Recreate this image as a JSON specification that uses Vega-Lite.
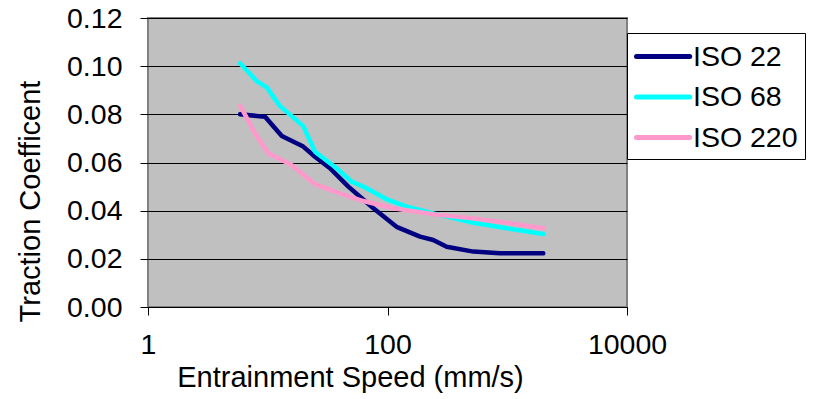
{
  "$schema": "https://vega.github.io/schema/vega-lite/v6.json",
  "width": 479,
  "height": 289,
  "autosize": {"type": "none"},
  "padding": {"left": 148, "top": 18, "right": 188, "bottom": 92},
  "background": "white",
  "config": {
    "font": "Liberation Sans",
    "view": {"fill": "#c0c0c0", "stroke": "#808080", "strokeWidth": 2},
    "axis": {
      "labelFont": "Liberation Sans",
      "titleFont": "Liberation Sans",
      "labelFontSize": 28.5,
      "titleFontSize": 29,
      "titleFontWeight": "normal",
      "labelColor": "black",
      "titleColor": "black",
      "tickColor": "black",
      "tickSize": 8,
      "domainColor": "black"
    },
    "legend": {
      "labelFont": "Liberation Sans",
      "labelFontSize": 28.5,
      "labelColor": "black"
    }
  },
  "data": {
    "values": [
      {"series": "ISO 22", "speed": 5.87, "tc": 0.0800},
      {"series": "ISO 22", "speed": 9.5, "tc": 0.0790},
      {"series": "ISO 22", "speed": 13.1, "tc": 0.0710},
      {"series": "ISO 22", "speed": 19.8, "tc": 0.0666},
      {"series": "ISO 22", "speed": 24.8, "tc": 0.0624},
      {"series": "ISO 22", "speed": 33.1, "tc": 0.0576},
      {"series": "ISO 22", "speed": 47.1, "tc": 0.0500},
      {"series": "ISO 22", "speed": 76.2, "tc": 0.0410},
      {"series": "ISO 22", "speed": 119, "tc": 0.0333},
      {"series": "ISO 22", "speed": 187, "tc": 0.0292},
      {"series": "ISO 22", "speed": 241, "tc": 0.0278},
      {"series": "ISO 22", "speed": 312, "tc": 0.0250},
      {"series": "ISO 22", "speed": 521, "tc": 0.0230},
      {"series": "ISO 22", "speed": 871, "tc": 0.0223},
      {"series": "ISO 22", "speed": 2000, "tc": 0.0223},
      {"series": "ISO 68", "speed": 5.87, "tc": 0.1012},
      {"series": "ISO 68", "speed": 8.09, "tc": 0.0938},
      {"series": "ISO 68", "speed": 9.8, "tc": 0.0912},
      {"series": "ISO 68", "speed": 12.6, "tc": 0.0835},
      {"series": "ISO 68", "speed": 19.8, "tc": 0.0751},
      {"series": "ISO 68", "speed": 24.8, "tc": 0.0645},
      {"series": "ISO 68", "speed": 37.6, "tc": 0.0576},
      {"series": "ISO 68", "speed": 50.2, "tc": 0.0520},
      {"series": "ISO 68", "speed": 62.8, "tc": 0.0500},
      {"series": "ISO 68", "speed": 98.4, "tc": 0.0447},
      {"series": "ISO 68", "speed": 145, "tc": 0.0417},
      {"series": "ISO 68", "speed": 241, "tc": 0.0389},
      {"series": "ISO 68", "speed": 521, "tc": 0.0350},
      {"series": "ISO 68", "speed": 990, "tc": 0.0327},
      {"series": "ISO 68", "speed": 2000, "tc": 0.0303},
      {"series": "ISO 220", "speed": 5.9, "tc": 0.0835},
      {"series": "ISO 220", "speed": 7.83, "tc": 0.0721},
      {"series": "ISO 220", "speed": 10.1, "tc": 0.0638},
      {"series": "ISO 220", "speed": 15.8, "tc": 0.0590},
      {"series": "ISO 220", "speed": 24.8, "tc": 0.0510},
      {"series": "ISO 220", "speed": 40.1, "tc": 0.0472},
      {"series": "ISO 220", "speed": 62.8, "tc": 0.0440},
      {"series": "ISO 220", "speed": 112, "tc": 0.0410},
      {"series": "ISO 220", "speed": 241, "tc": 0.0385},
      {"series": "ISO 220", "speed": 521, "tc": 0.0368},
      {"series": "ISO 220", "speed": 990, "tc": 0.0350},
      {"series": "ISO 220", "speed": 2000, "tc": 0.0327}
    ]
  },
  "mark": {"type": "line", "strokeWidth": 4.5, "strokeCap": "round", "strokeJoin": "round"},
  "encoding": {
    "x": {
      "field": "speed",
      "type": "quantitative",
      "scale": {"type": "log", "domain": [1, 10000], "nice": false},
      "axis": {
        "title": "Entrainment Speed (mm/s)",
        "values": [1, 100, 10000],
        "format": "d",
        "grid": false,
        "labelPadding": 15,
        "labelFlush": false,
        "titleX": 202,
        "titleY": 79,
        "titleBaseline": "alphabetic"
      }
    },
    "y": {
      "field": "tc",
      "type": "quantitative",
      "scale": {"domain": [0, 0.12], "nice": false, "zero": true},
      "axis": {
        "title": "Traction Coefficent",
        "values": [0, 0.02, 0.04, 0.06, 0.08, 0.1, 0.12],
        "format": ".2f",
        "grid": true,
        "gridColor": "black",
        "gridWidth": 1,
        "gridOpacity": 1,
        "domain": false,
        "labelPadding": 18,
        "titleX": -118,
        "titleY": 183,
        "titleAngle": -90,
        "titleBaseline": "middle",
        "titleAlign": "center"
      }
    },
    "color": {
      "field": "series",
      "type": "nominal",
      "sort": ["ISO 22", "ISO 68", "ISO 220"],
      "scale": {"domain": ["ISO 22", "ISO 68", "ISO 220"], "range": ["#000080", "#00ffff", "#ff99cc"]},
      "legend": {
        "title": null,
        "orient": "none",
        "legendX": 479,
        "legendY": 15,
        "strokeColor": "black",
        "fillColor": "white",
        "padding": 7,
        "symbolType": "M-1,0H2.8",
        "symbolSize": 784,
        "symbolStrokeWidth": 5,
        "labelOffset": 26,
        "rowPadding": 9.5,
        "encode": {"symbols": {"update": {"strokeCap": {"value": "round"}}}}
      }
    }
  }
}
